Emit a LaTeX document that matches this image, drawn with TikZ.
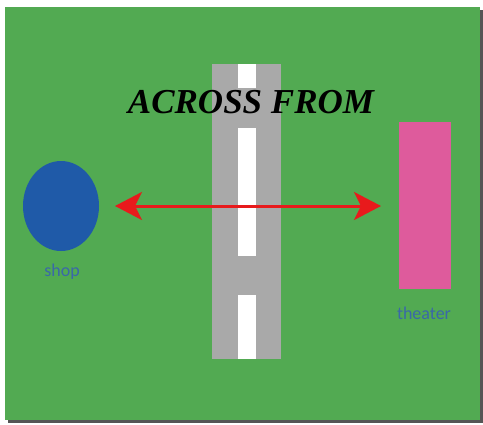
\documentclass[tikz,border=0pt]{standalone}
\usepackage{fontspec}
\setmainfont{Liberation Serif}
\newfontfamily\labelfont{Carlito}
\usetikzlibrary{arrows.meta,shapes.geometric}
\definecolor{grass}{HTML}{52AA52}
\definecolor{road}{HTML}{A9A9A9}
\definecolor{shopblue}{HTML}{1F5AA8}
\definecolor{labelblue}{HTML}{3A68A8}
\definecolor{theaterpink}{HTML}{DE5B9C}
\definecolor{arrowred}{HTML}{E81A1C}
\definecolor{shadowgray}{HTML}{555555}
\tikzset{
  lbl/.style={font=\labelfont\fontsize{18}{18}\selectfont, text=labelblue, inner sep=0pt},
}
\begin{document}
\begin{tikzpicture}[x=1pt,y=-1pt]
\useasboundingbox[fill=white] (0,0) rectangle (483,424);
% shadow and field
\fill[shadowgray] (8,10) rectangle (483,423);
\fill[grass] (5,7) rectangle (480,420);
% road
\fill[road] (212,64) rectangle (281,359);
\fill[white] (238,64) rectangle (256,88);
\fill[white] (238,128) rectangle (256,256);
\fill[white] (238,295) rectangle (256,359);
% shop
\node[ellipse, draw=none, fill=shopblue, minimum width=76pt, minimum height=90pt, inner sep=0pt] (shop) at (61,206) {};
\node[lbl] (shoplbl) at (62,272) {shop};
% theater
\node[fill=theaterpink, minimum width=52pt, minimum height=167pt, inner sep=0pt, anchor=north west] (theater) at (399,122) {};
\node[lbl] (theaterlbl) at (424,313) {theater};
% arrow
\coordinate (al) at (115,206);
\coordinate (ar) at (381,206);
\draw[arrowred, line width=3pt, {Stealth[length=27pt,width=28pt,inset=7pt]}-{Stealth[length=27pt,width=28pt,inset=7pt]}] (al) -- (ar);
% title
\node[inner sep=0pt, font=\bfseries\itshape\fontsize{35}{35}\selectfont] (title) at (251,102) {ACROSS FROM};
\end{tikzpicture}
\end{document}
